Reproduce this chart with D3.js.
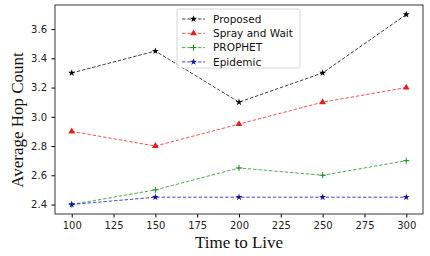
<!DOCTYPE html>
<meta charset="utf-8">
<script src="https://d3js.org/d3.v7.min.js"></script>
<style>
  body { margin: 0; background: #fff; }
  .tick text { font-family: 'DejaVu Sans', sans-serif; font-size: 10px; fill: #222; }
  .lab { font-family: 'Liberation Serif', 'Times New Roman', serif; font-size: 17px; fill: #111; }
  .leg { font-family: 'DejaVu Sans', sans-serif; font-size: 10.5px; fill: #111; }
</style>
<body>
<div id="chart"></div>
<script>
var ttl = [100, 150, 200, 250, 300];
var proposed = [3.3, 3.45, 3.1, 3.3, 3.7];
var sprayWait = [2.9, 2.8, 2.95, 3.1, 3.2];
var prophet = [2.4, 2.5, 2.65, 2.6, 2.7];
var epidemic = [2.4, 2.45, 2.45, 2.45, 2.45];
var names = ["Proposed", "Spray and Wait", "PROPHET", "Epidemic"];
var colors = ["#000000", "#e02020", "#1a8a1a", "#1010a0"];
var markers = ["star", "triangle", "plus", "star"];
var xTicks = [100, 125, 150, 175, 200, 225, 250, 275, 300];
var yTicks = [2.4, 2.6, 2.8, 3.0, 3.2, 3.4, 3.6];

var W = 430, H = 256;
var margin = {top: 5, right: 7, bottom: 42, left: 55};
var width = W - margin.left - margin.right,
    height = H - margin.top - margin.bottom;

var svg = d3.select("#chart").append("svg")
    .attr("width", W).attr("height", H)
  .append("g")
    .attr("transform", "translate(" + margin.left + "," + margin.top + ")");

var x = d3.scaleLinear().domain([90, 310]).range([0, width]);
var y = d3.scaleLinear().domain([2.335, 3.765]).range([height, 0]);

svg.append("g")
  .attr("transform", "translate(0," + height + ")")
  .call(d3.axisBottom(x).tickValues(xTicks).tickSize(3.5).tickPadding(4))
  .call(function(g) { g.select(".domain").remove(); });

svg.append("g")
  .call(d3.axisLeft(y).tickValues(yTicks).tickSize(3.5).tickPadding(4.5).tickFormat(d3.format(".1f")))
  .call(function(g) { g.select(".domain").remove(); });

svg.append("rect")
  .attr("width", width).attr("height", height)
  .attr("fill", "none").attr("stroke", "#222").attr("stroke-width", 0.9);

function drawMarker(g, type, cx, cy, color) {
  if (type === "star") {
    g.append("path")
      .attr("d", d3.symbol().type(d3.symbolStar).size(15)())
      .attr("transform", "translate(" + cx + "," + cy + ")")
      .attr("fill", color);
  } else if (type === "triangle") {
    g.append("path")
      .attr("d", d3.symbol().type(d3.symbolTriangle).size(20)())
      .attr("transform", "translate(" + cx + "," + cy + ")")
      .attr("fill", color);
  } else {
    g.append("path")
      .attr("d", "M" + (cx - 3) + "," + cy + "H" + (cx + 3) + "M" + cx + "," + (cy - 3) + "V" + (cy + 3))
      .attr("stroke", color).attr("stroke-width", 1);
  }
}

var series = [proposed, sprayWait, prophet, epidemic];
var line = d3.line()
  .x(function(d, i) { return x(ttl[i]); })
  .y(function(d) { return y(d); });

series.forEach(function(s, k) {
  svg.append("path")
    .datum(s)
    .attr("d", line)
    .attr("fill", "none")
    .attr("stroke", colors[k])
    .attr("stroke-opacity", 0.75)
    .attr("stroke-width", 1)
    .attr("stroke-dasharray", "3.5,1.8");
  var g = svg.append("g");
  s.forEach(function(v, i) { drawMarker(g, markers[k], x(ttl[i]), y(v), colors[k]); });
});

// legend
var lg = svg.append("g").attr("transform", "translate(" + (177 - margin.left) + "," + (9 - margin.top) + ")");
lg.append("rect")
  .attr("width", 123).attr("height", 59).attr("rx", 2)
  .attr("fill", "#fff").attr("fill-opacity", 0.8)
  .attr("stroke", "#ccc").attr("stroke-width", 0.8);
names.forEach(function(n, k) {
  var yy = 10 + k * 14.3;
  lg.append("line")
    .attr("x1", 5).attr("x2", 28).attr("y1", yy).attr("y2", yy)
    .attr("stroke", colors[k]).attr("stroke-opacity", 0.75)
    .attr("stroke-width", 1).attr("stroke-dasharray", "3.5,1.8");
  drawMarker(lg, markers[k], 16.5, yy, colors[k]);
  lg.append("text").attr("class", "leg")
    .attr("x", 36).attr("y", yy + 3.8).text(n);
});

// axis labels
svg.append("text").attr("class", "lab")
  .attr("x", width / 2).attr("y", height + 34)
  .attr("text-anchor", "middle")
  .text("Time to Live");

svg.append("text").attr("class", "lab")
  .attr("transform", "rotate(-90)")
  .attr("x", -115).attr("y", -32)
  .attr("text-anchor", "middle")
  .text("Average Hop Count");
</script>
</body>
